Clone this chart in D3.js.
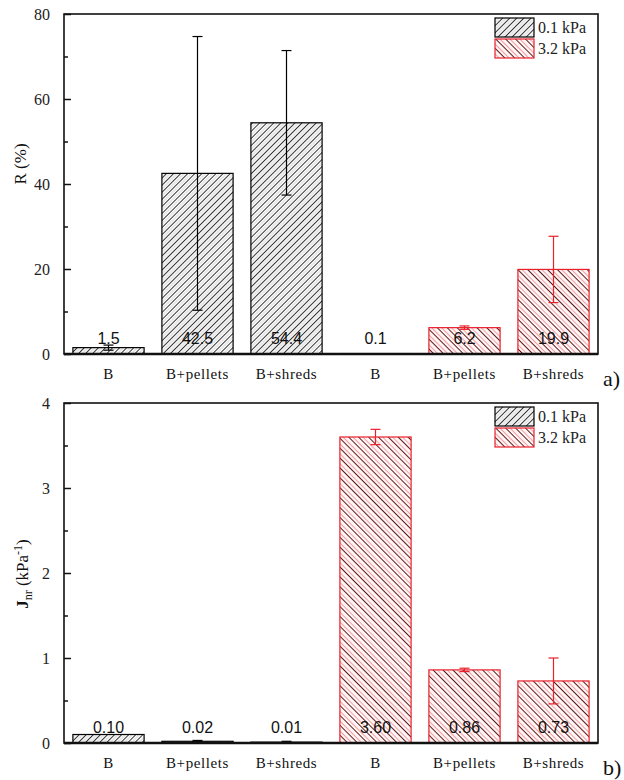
<!DOCTYPE html>
<html>
<head>
<meta charset="utf-8">
<script src="https://cdn.jsdelivr.net/npm/d3@7"></script>
<style>
  body { margin: 0; background: #fff; }
  svg { display: block; }
</style>
</head>
<body>
<script>
// categories and series
var categories = ["B", "B+pellets", "B+shreds", "B ", "B+pellets ", "B+shreds "];
var categoryLabels = ["B", "B+pellets", "B+shreds", "B", "B+pellets", "B+shreds"];
var pressure = ["0.1 kPa", "0.1 kPa", "0.1 kPa", "3.2 kPa", "3.2 kPa", "3.2 kPa"];

var rValues = [1.5, 42.5, 54.4, 0.1, 6.2, 19.9];
var rErrors = [0.6, 32.2, 17.0, 0, 0.4, 7.8];
var rLabels = ["1.5", "42.5", "54.4", "0.1", "6.2", "19.9"];
var rTicks = [0, 20, 40, 60, 80];
var rMinor = [10, 30, 50, 70];

var jValues = [0.10, 0.02, 0.01, 3.60, 0.86, 0.73];
var jErrors = [0, 0.01, 0.01, 0.09, 0.02, 0.27];
var jLabels = ["0.10", "0.02", "0.01", "3.60", "0.86", "0.73"];
var jTicks = [0, 1, 2, 3, 4];
var jMinor = [0.5, 1.5, 2.5, 3.5];

var legendKeys = ["0.1 kPa", "3.2 kPa"];

var W = 624, H = 780;
var RED = "#e8202a";
var SERIF = "'Liberation Serif', 'Times New Roman', 'DejaVu Serif', serif";
var SANS = "'Liberation Sans', Arial, sans-serif";

var svg = d3.select("body").append("svg")
    .attr("width", W)
    .attr("height", H);

// hatch patterns
var defs = svg.append("defs");

var pLow = defs.append("pattern")
    .attr("id", "hatchLow")
    .attr("patternUnits", "userSpaceOnUse")
    .attr("width", 5)
    .attr("height", 10)
    .attr("patternTransform", "rotate(45)");
pLow.append("rect").attr("width", 5).attr("height", 10).attr("fill", "#fff");
pLow.append("line").attr("x1", 0.5).attr("x2", 0.5).attr("y1", 0).attr("y2", 10)
    .attr("stroke", "#333").attr("stroke-width", 1);
pLow.append("line").attr("x1", 3).attr("x2", 3).attr("y1", 0).attr("y2", 10)
    .attr("stroke", "#d0d0d0").attr("stroke-width", 1);

var pHigh = defs.append("pattern")
    .attr("id", "hatchHigh")
    .attr("patternUnits", "userSpaceOnUse")
    .attr("width", 7)
    .attr("height", 10)
    .attr("patternTransform", "rotate(-45)");
pHigh.append("rect").attr("width", 7).attr("height", 10).attr("fill", "#fff5f5");
pHigh.append("line").attr("x1", 0.5).attr("x2", 0.5).attr("y1", 0).attr("y2", 10)
    .attr("stroke", "#5a1a1a").attr("stroke-width", 1);
pHigh.append("line").attr("x1", 3.5).attr("x2", 3.5).attr("y1", 0).attr("y2", 10)
    .attr("stroke", "#f4a0a4").attr("stroke-width", 1);

function fillFor(p) {
    return p === "0.1 kPa" ? "url(#hatchLow)" : "url(#hatchHigh)";
}
function strokeFor(p) {
    return p === "0.1 kPa" ? "#000" : RED;
}

var left = 64, right = 598;

var x = d3.scaleBand()
    .domain(categories)
    .range([left, right])
    .paddingInner(0.2)
    .paddingOuter(0.1);

function drawPanel(opts) {
    var y = d3.scaleLinear().domain(opts.domain).range([opts.bottom, opts.top]);
    var g = svg.append("g");

    var data = categories.map(function(c, i) {
        return {
            cat: c,
            label: categoryLabels[i],
            p: pressure[i],
            v: opts.values[i],
            e: opts.errors[i],
            txt: opts.labels[i]
        };
    });

    // bars
    g.selectAll("rect.bar")
        .data(data)
        .enter()
        .append("rect")
        .attr("class", "bar")
        .attr("x", function(d) { return x(d.cat); })
        .attr("width", x.bandwidth())
        .attr("y", function(d) { return y(d.v); })
        .attr("height", function(d) { return y(0) - y(d.v); })
        .attr("fill", function(d) { return fillFor(d.p); })
        .attr("stroke", function(d) { return strokeFor(d.p); })
        .attr("stroke-width", 1.2);

    // error bars
    var err = g.selectAll("g.err")
        .data(data.filter(function(d) { return d.e > 0; }))
        .enter()
        .append("g")
        .attr("stroke", function(d) { return strokeFor(d.p); })
        .attr("stroke-width", 1.2);
    err.append("line")
        .attr("x1", function(d) { return x(d.cat) + x.bandwidth() / 2; })
        .attr("x2", function(d) { return x(d.cat) + x.bandwidth() / 2; })
        .attr("y1", function(d) { return y(d.v + d.e); })
        .attr("y2", function(d) { return y(Math.max(0, d.v - d.e)); });
    ["+", "-"].forEach(function(s) {
        err.append("line")
            .attr("x1", function(d) { return x(d.cat) + x.bandwidth() / 2 - 5; })
            .attr("x2", function(d) { return x(d.cat) + x.bandwidth() / 2 + 5; })
            .attr("y1", function(d) { return y(s === "+" ? d.v + d.e : Math.max(0, d.v - d.e)); })
            .attr("y2", function(d) { return y(s === "+" ? d.v + d.e : Math.max(0, d.v - d.e)); });
    });

    // value labels just above the baseline
    g.selectAll("text.val")
        .data(data)
        .enter()
        .append("text")
        .attr("class", "val")
        .attr("x", function(d) { return x(d.cat) + x.bandwidth() / 2; })
        .attr("y", y(0) - 10)
        .attr("text-anchor", "middle")
        .attr("font-family", SANS)
        .attr("font-size", 16)
        .attr("fill", "#111")
        .text(function(d) { return d.txt; });

    // category labels
    g.selectAll("text.cat")
        .data(data)
        .enter()
        .append("text")
        .attr("class", "cat")
        .attr("x", function(d) { return x(d.cat) + x.bandwidth() / 2; })
        .attr("y", y(0) + 25)
        .attr("text-anchor", "middle")
        .attr("font-family", SERIF)
        .attr("font-size", 15)
        .attr("letter-spacing", 0.6)
        .attr("fill", "#111")
        .text(function(d) { return d.label; });

    // frame
    g.append("rect")
        .attr("x", left)
        .attr("y", opts.top)
        .attr("width", right - left)
        .attr("height", opts.bottom - opts.top)
        .attr("fill", "none")
        .attr("stroke", "#111")
        .attr("stroke-width", 1.6);
    g.append("line")
        .attr("x1", left).attr("x2", right)
        .attr("y1", opts.bottom).attr("y2", opts.bottom)
        .attr("stroke", "#111").attr("stroke-width", 2.4);

    // y axis with inward ticks
    var axis = d3.axisLeft(y)
        .tickValues(opts.ticks)
        .tickSize(-7)
        .tickPadding(14)
        .tickFormat(d3.format("d"));
    var ax = g.append("g")
        .attr("transform", "translate(" + left + ",0)")
        .call(axis);
    ax.select(".domain").remove();
    ax.selectAll(".tick line").attr("stroke", "#111").attr("stroke-width", 1.5);
    ax.selectAll(".tick text")
        .attr("font-family", SERIF)
        .attr("font-size", 16)
        .attr("fill", "#222");

    var minor = d3.axisLeft(y)
        .tickValues(opts.minor)
        .tickSize(-4)
        .tickFormat("");
    var mx = g.append("g")
        .attr("transform", "translate(" + left + ",0)")
        .call(minor);
    mx.select(".domain").remove();
    mx.selectAll(".tick line").attr("stroke", "#111").attr("stroke-width", 1.5);

    // legend
    var leg = g.selectAll("g.leg")
        .data(legendKeys)
        .enter()
        .append("g")
        .attr("transform", function(d, i) {
            return "translate(495," + (opts.top + 4 + i * 21) + ")";
        });
    leg.append("rect")
        .attr("width", 39)
        .attr("height", 19)
        .attr("fill", function(d) { return fillFor(d); })
        .attr("stroke", function(d) { return strokeFor(d); })
        .attr("stroke-width", 1.2);
    leg.append("text")
        .attr("x", 43)
        .attr("y", 15)
        .attr("font-family", SERIF)
        .attr("font-size", 16)
        .attr("fill", "#222")
        .text(function(d) { return d; });

    // panel tag
    g.append("text")
        .attr("x", 603)
        .attr("y", opts.bottom + 32)
        .attr("font-family", SERIF)
        .attr("font-size", 22)
        .attr("fill", "#111")
        .text(opts.tag);

    return g;
}

drawPanel({
    top: 14, bottom: 354,
    domain: [0, 80],
    values: rValues, errors: rErrors, labels: rLabels,
    ticks: rTicks, minor: rMinor,
    tag: "a)"
});

drawPanel({
    top: 403, bottom: 743,
    domain: [0, 4],
    values: jValues, errors: jErrors, labels: jLabels,
    ticks: jTicks, minor: jMinor,
    tag: "b)"
});

// y titles
svg.append("text")
    .attr("transform", "translate(26,164) rotate(-90)")
    .attr("text-anchor", "middle")
    .attr("font-family", SERIF)
    .attr("font-size", 17)
    .attr("fill", "#111")
    .text("R (%)");

var jt = svg.append("text")
    .attr("transform", "translate(28,574) rotate(-90)")
    .attr("text-anchor", "middle")
    .attr("font-family", SERIF)
    .attr("font-size", 17)
    .attr("fill", "#111");
jt.append("tspan").attr("font-weight", "bold").text("J");
jt.append("tspan").attr("font-size", 12).attr("dy", 4).text("nr");
jt.append("tspan").attr("dy", -4).text(" (kPa");
jt.append("tspan").attr("font-size", 12).attr("dy", -6).text("-1");
jt.append("tspan").attr("dy", 6).text(")");
</script>
</body>
</html>
